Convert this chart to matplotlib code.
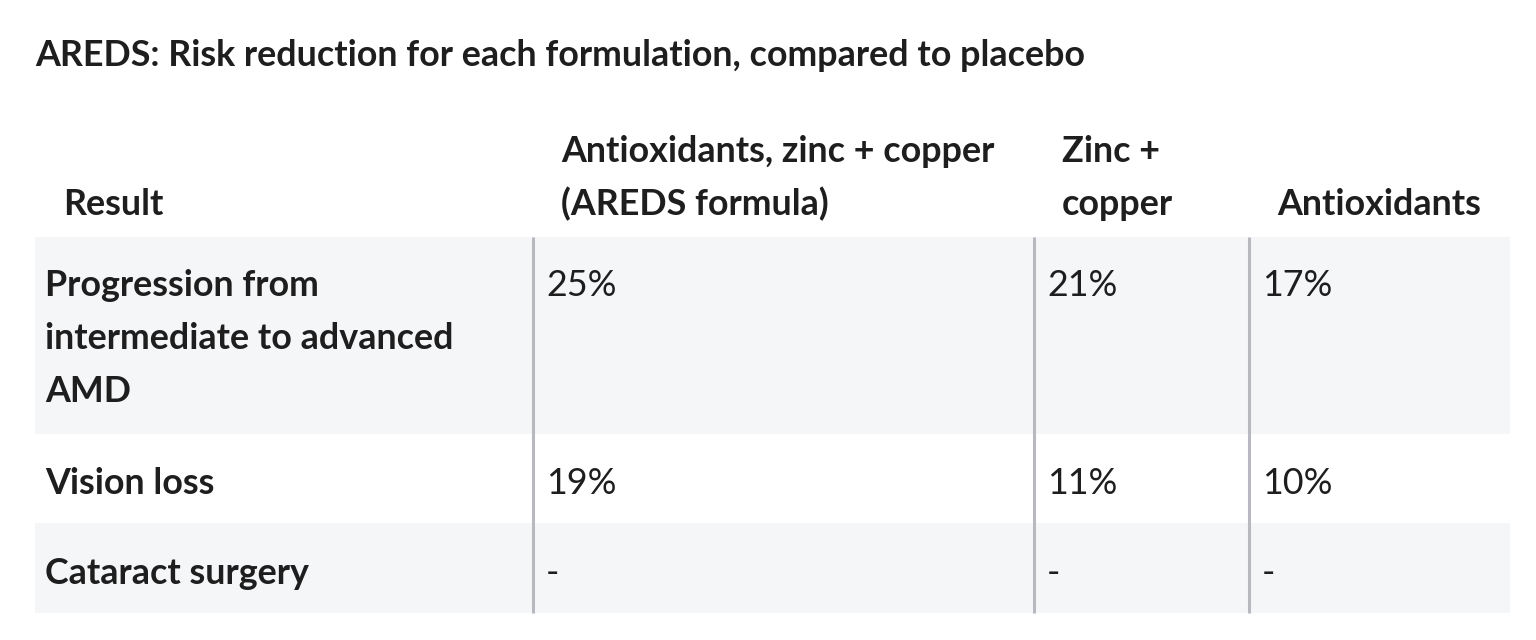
import matplotlib
matplotlib.use("Agg")
import matplotlib.pyplot as plt
from matplotlib.patches import Rectangle

title = "AREDS: Risk reduction for each formulation, compared to placebo"
headers = ["Result", "Antioxidants, zinc + copper\n(AREDS formula)", "Zinc +\ncopper", "Antioxidants"]
results = ["Progression from\nintermediate to advanced\nAMD", "Vision loss", "Cataract surgery"]
areds = ["25%", "19%", "-"]
zinc = ["21%", "11%", "-"]
antiox = ["17%", "10%", "-"]

fig = plt.figure(figsize=(15.36, 6.4), dpi=100)
ax = fig.add_axes([0, 0, 1, 1])
ax.set_xlim(0, 1536); ax.set_ylim(640, 0); ax.axis("off")
plt.rcParams['font.family'] = ['Lato', 'DejaVu Sans']
col = "#1e1e1e"
fs = 25.8
lh = 53

ax.text(35, 66, title, fontsize=fs, fontweight="bold", color=col, va="baseline", ha="left")

rows_y = [(237, 434), (434, 523), (523, 613)]
bgs = ["#f5f6f8", "white", "#f5f6f8"]
for (y0, y1), bg in zip(rows_y, bgs):
    ax.add_patch(Rectangle((35, y0), 1475, y1 - y0, color=bg, lw=0))
for x in [533, 1034, 1249]:
    ax.plot([x, x], [237, 613], color="#b8b9c0", lw=2.2, solid_capstyle="butt")

hx = [63, 561, 1062, 1277]
for x, h in zip(hx, headers):
    lines = h.split("\n")
    for k, line in enumerate(lines):
        y = 215 - (len(lines) - 1 - k) * lh
        ax.text(x, y, line, fontsize=fs, fontweight="bold", color=col, va="baseline", ha="left")

vx = [546, 1047, 1262]
row_base = [296, 494, 584]
for i, r in enumerate(results):
    for k, line in enumerate(r.split("\n")):
        ax.text(45, row_base[i] + k * lh, line, fontsize=fs, fontweight="bold", color=col,
                va="baseline", ha="left")
    for x, v in zip(vx, [areds[i], zinc[i], antiox[i]]):
        ax.text(x, row_base[i], v, fontsize=fs, color=col, va="baseline", ha="left")

fig.savefig("out.png", dpi=100, facecolor="white")
